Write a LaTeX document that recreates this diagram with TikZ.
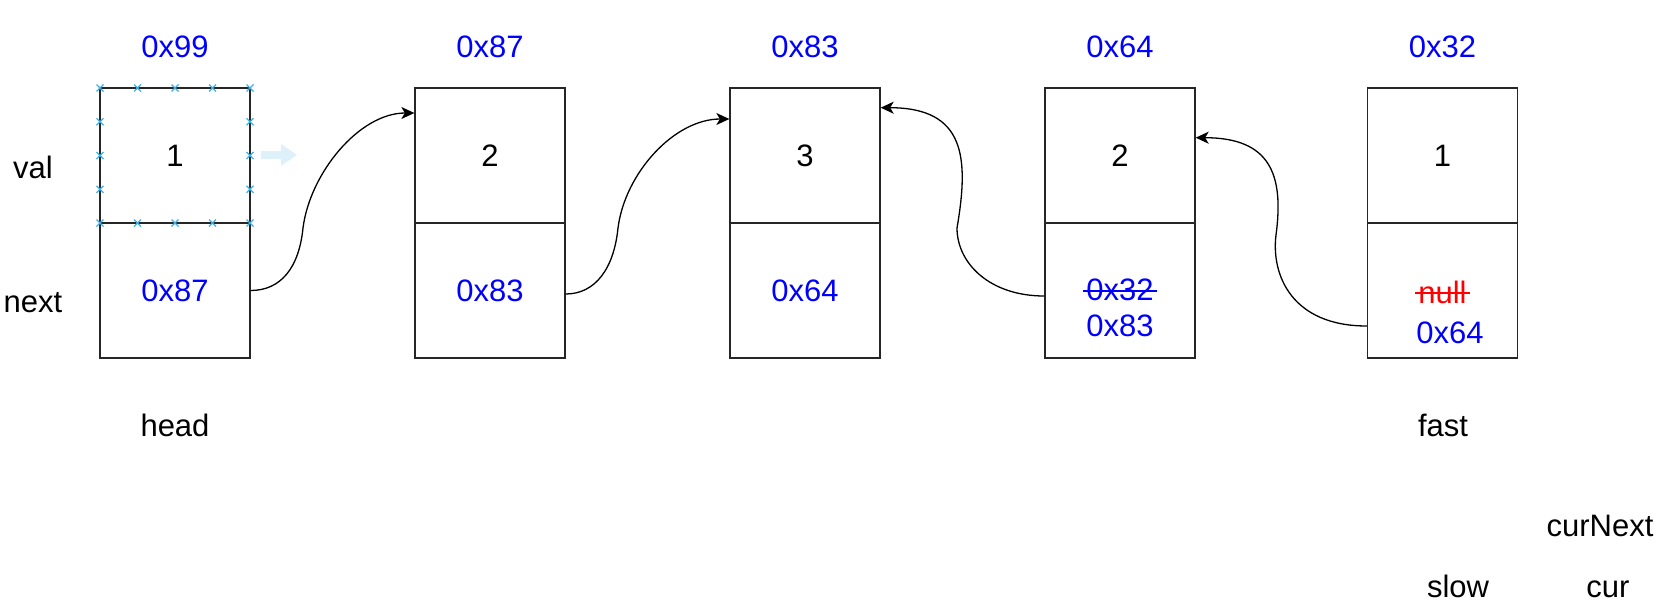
\documentclass[tikz,border=0pt]{standalone}
\usepackage{fontspec}
\setmainfont{Liberation Sans}
\usetikzlibrary{arrows.meta}
\definecolor{selblue}{RGB}{62,176,228}
\definecolor{ghost}{RGB}{222,241,251}
\begin{document}
\begin{tikzpicture}[x=1pt,y=-1pt,
  cell/.style={draw=black!85,line width=1.3pt,minimum width=150pt,minimum height=135pt,inner sep=0pt},
  txt/.style={inner sep=0pt,anchor=base,font=\fontsize{31}{37}\selectfont},
  addr/.style={txt,text=blue},
  link/.style={line width=1.3pt,-{Stealth[length=13pt,width=12pt,inset=3.5pt]}},
  strike/.style={line width=2.3pt},
  selx/.style={draw=selblue,line width=1.3pt}
]
\useasboundingbox (0,0) rectangle (1664,605);

% cells
\node[cell] (v1) at (175,155.5) {};
\node[cell] (n1) at (175,290.5) {};
\node[cell] (v2) at (490,155.5) {};
\node[cell] (n2) at (490,290.5) {};
\node[cell] (v3) at (805,155.5) {};
\node[cell] (n3) at (805,290.5) {};
\node[cell] (v4) at (1120,155.5) {};
\node[cell] (n4) at (1120,290.5) {};
\node[cell] (v5) at (1442.5,155.5) {};
\node[cell] (n5) at (1442.5,290.5) {};

% addresses
\node[addr] (a1) at (175,57.3) {0x99};
\node[addr] (a2) at (490,57.3) {0x87};
\node[addr] (a3) at (805,57.3) {0x83};
\node[addr] (a4) at (1120,57.3) {0x64};
\node[addr] (a5) at (1442.5,57.3) {0x32};

% values
\node[txt] (t1) at (175,166) {1};
\node[txt] (t2) at (490,166) {2};
\node[txt] (t3) at (805,166) {3};
\node[txt] (t4) at (1120,166) {2};
\node[txt] (t5) at (1442.5,166) {1};

% next pointers
\node[addr] (p1) at (175,301) {0x87};
\node[addr] (p2) at (490,301) {0x83};
\node[addr] (p3) at (805,301) {0x64};
\node[addr] (p4old) at (1120,300) {0x32};
\node[addr] (p4) at (1120,336) {0x83};
\node[txt,text=red] (p5old) at (1442.5,303) {null};
\node[addr] (p5) at (1450,343) {0x64};
\draw[strike,blue] ([xshift=-3pt,yshift=9pt]p4old.base west) -- ([xshift=3pt,yshift=9pt]p4old.base east);
\draw[strike,red] ([xshift=-3pt,yshift=10pt]p5old.base west) -- ([xshift=3pt,yshift=10pt]p5old.base east);

% labels
\node[txt] (lval) at (33,178.3) {val};
\node[txt] (lnext) at (33,312.7) {next};
\node[txt] (lhead) at (175,436) {head};
\node[txt] (lfast) at (1443,436) {fast};
\node[txt] (lcurnext) at (1600,536.7) {curNext};
\node[txt] (lslow) at (1458,597.3) {slow};
\node[txt] (lcur) at (1608,597.3) {cur};

% connectors
\draw[link] (n1.east) .. controls +(30,0) and +(-4,40) .. (303,228)
  .. controls +(7,-55) and +(-55,0) .. ([yshift=42.5pt]v2.west);
\draw[link] ([yshift=-3.5pt]n2.east) .. controls +(30,0) and +(-4,40) .. (618,228)
  .. controls +(7,-55) and +(-55,0) .. ([yshift=36.5pt]v3.west);
\draw[link] ([yshift=-5.5pt]n4.west) .. controls +(-55,0) and +(0,35) .. (957,228)
  .. controls +(12,-70) and +(85,0) .. ([yshift=47.8pt]v3.east);
\draw[link] ([yshift=-35.5pt]n5.west) .. controls +(-75,0) and +(-5,40) .. (1276,235)
  .. controls +(8,-60) and +(75,0) .. ([yshift=17.8pt]v4.east);

% selection handles on the first value cell
\foreach \x in {100,137.5,175,212.5,250}{
  \foreach \y in {88,223}{
    \draw[selx] (\x-3.5,\y-3.5) -- (\x+3.5,\y+3.5) (\x-3.5,\y+3.5) -- (\x+3.5,\y-3.5);
  }
}
\foreach \y in {121.75,155.5,189.25}{
  \foreach \x in {100,250}{
    \draw[selx] (\x-3.5,\y-3.5) -- (\x+3.5,\y+3.5) (\x-3.5,\y+3.5) -- (\x+3.5,\y-3.5);
  }
}
\fill[ghost] (261,151) -- (281,151) -- (281,144) -- (297,155) -- (281,166) -- (281,159) -- (261,159) -- cycle;
\end{tikzpicture}
\end{document}
